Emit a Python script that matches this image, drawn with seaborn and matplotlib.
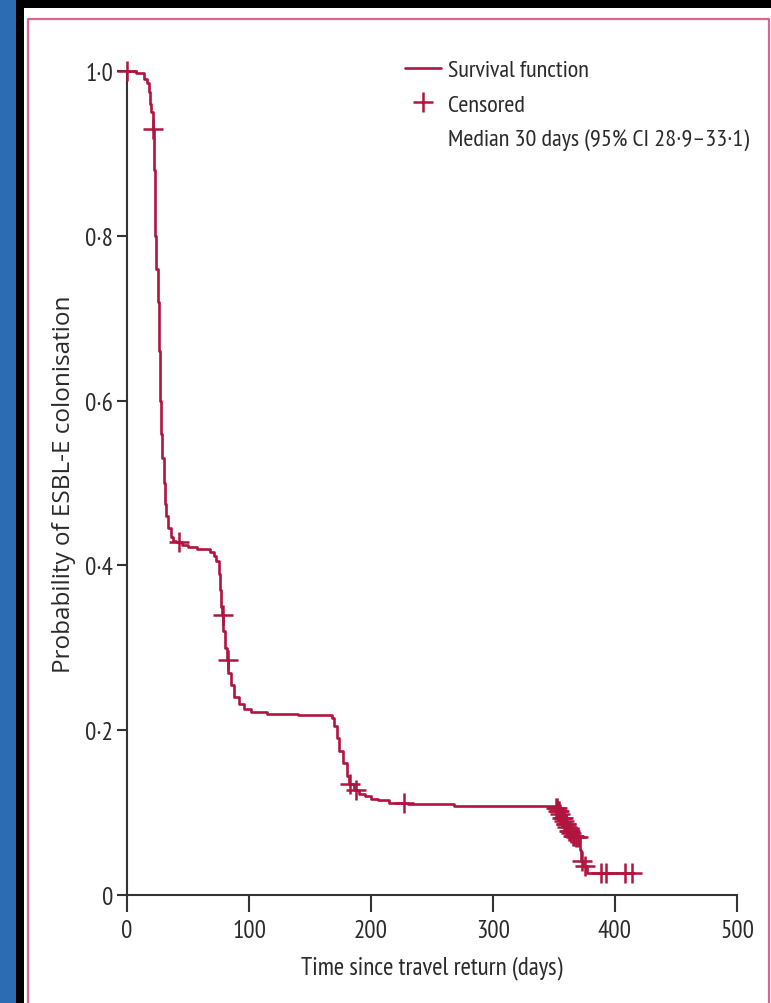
import numpy as np
import pandas as pd
import matplotlib
matplotlib.use("Agg")
import matplotlib.pyplot as plt
from matplotlib.patches import Rectangle
from matplotlib.lines import Line2D
import seaborn as sns

# ---------------- data ----------------
step_days = [0, 7, 14, 16, 18, 19, 20, 21, 22, 23, 24, 25, 26, 27, 28, 29, 30, 31, 32,
             34, 36, 38, 40, 45, 50, 57, 68, 71, 73, 75, 76, 77, 78, 79, 80, 82, 83, 85,
             88, 92, 96, 102, 115, 140, 168, 170, 172, 174, 177, 180, 182, 186, 190, 195,
             200, 206, 215, 230, 242, 268, 351, 353, 354.5, 356, 357.5, 359, 360.5, 362,
             363.5, 365, 367, 371, 371.5, 372, 372.5, 374, 377, 414]
step_surv = [1.0, 0.997, 0.99, 0.985, 0.975, 0.96, 0.95, 0.93, 0.88, 0.80, 0.76, 0.72,
             0.66, 0.60, 0.56, 0.53, 0.50, 0.475, 0.46, 0.445, 0.435, 0.43, 0.428, 0.425,
             0.422, 0.42, 0.416, 0.412, 0.405, 0.39, 0.37, 0.35, 0.34, 0.32, 0.30, 0.285,
             0.27, 0.255, 0.24, 0.232, 0.226, 0.222, 0.220, 0.218, 0.215, 0.205, 0.19,
             0.175, 0.16, 0.145, 0.135, 0.127, 0.122, 0.12, 0.117, 0.115, 0.112, 0.111,
             0.110, 0.108, 0.106, 0.102, 0.098, 0.094, 0.09, 0.086, 0.082, 0.078, 0.075,
             0.072, 0.07, 0.062, 0.055, 0.048, 0.041, 0.035, 0.027, 0.027]
censor_days = [0, 21.5, 42.5, 78.5, 82.5, 183, 188, 227, 351.5, 352.5, 353.5, 354, 355,
               356.5, 357, 358, 359.5, 360, 361, 362.5, 363, 364, 365.5, 366, 368, 370,
               372.7, 375, 388.5, 392.5, 408, 414]

x_ticks = [0, 100, 200, 300, 400, 500]
x_tick_labels = ["0", "100", "200", "300", "400", "500"]
y_ticks = [0, 0.2, 0.4, 0.6, 0.8, 1.0]
y_tick_labels = ["0", "0·2", "0·4", "0·6", "0·8", "1·0"]

x_label = "Time since travel return (days)"
y_label = "Probability of ESBL-E colonisation"
legend_labels = ["Survival function", "Censored", "Median 30 days (95% CI 28·9–33·1)"]

# ---------------- styling ----------------
RED = "#B0143F"
SPINE = "#333333"
TXT = "#2a2a2a"
sns.set_theme(style="ticks")
narrow = ["PT Sans Narrow", "DejaVu Sans"]
plt.rcParams["font.family"] = narrow

curve = pd.DataFrame({"day": step_days, "surv": step_surv})
sd = np.asarray(step_days)
ss = np.asarray(step_surv)
idx = np.searchsorted(sd, np.asarray(censor_days), side="right") - 1
cens = pd.DataFrame({"day": censor_days, "surv": ss[idx]})

fig = plt.figure(figsize=(7.71, 10.04), dpi=100)
fig.patch.set_facecolor("#2C6CB2")
W, H = 771, 1004
fig.patches.append(Rectangle((16 / W, 0), 1, 1003 / H, transform=fig.transFigure,
                             facecolor="black", edgecolor="none", zorder=-3))
fig.patches.append(Rectangle((24 / W, 0), 1, 995 / H, transform=fig.transFigure,
                             facecolor="white", edgecolor="none", zorder=-2))
fig.add_artist(Line2D([28 / W, 28 / W, 769 / W, 769 / W],
                      [0, (H - 20) / H, (H - 20) / H, 0], transform=fig.transFigure,
                      color="#D9668C", lw=1.6, zorder=-1))

ax = fig.add_axes([127 / W, 108 / H, 610 / W, 824 / H])
ax.set_facecolor("none")

sns.lineplot(data=curve, x="day", y="surv", ax=ax, estimator=None, sort=False,
             drawstyle="steps-post", color=RED, lw=1.9, clip_on=False, zorder=3)
sns.scatterplot(data=cens, x="day", y="surv", ax=ax, marker="+", s=190, color=RED,
                linewidth=1.8, clip_on=False, zorder=4)

ax.set_xlim(0, 500)
ax.set_ylim(0, 1.0)
ax.set_xticks(x_ticks)
ax.set_xticklabels(x_tick_labels)
ax.set_yticks(y_ticks)
ax.set_yticklabels(y_tick_labels)
for s in ["top", "right"]:
    ax.spines[s].set_visible(False)
for s in ["left", "bottom"]:
    ax.spines[s].set_color(SPINE)
    ax.spines[s].set_linewidth(1.5)
ax.tick_params(axis="x", length=12, width=1.5, color=SPINE, labelsize=18,
               labelcolor=TXT, pad=5)
ax.tick_params(axis="y", length=7, width=1.5, color=SPINE, labelsize=18,
               labelcolor=TXT, pad=3)
ax.set_xlabel(x_label, fontsize=18, color=TXT)
ax.xaxis.set_label_coords(0.5, -0.073)
ax.set_ylabel(y_label, fontsize=17.5, color=TXT,
              family=["Open Sans", "DejaVu Sans"])
ax.yaxis.set_label_coords(-0.083, 0.5)

handles = [Line2D([], [], color=RED, lw=1.9),
           Line2D([], [], color=RED, marker="+", ls="", markersize=14, mew=1.8),
           Line2D([], [], color="none")]
ax.legend(handles, legend_labels, loc="upper left", bbox_to_anchor=(0.455, 1.014),
          frameon=False, fontsize=17.5, handlelength=1.5, handletextpad=0.3,
          borderpad=0, borderaxespad=0, labelspacing=0.5, labelcolor=TXT)

fig.savefig("out.png", dpi=100, facecolor=fig.get_facecolor())
